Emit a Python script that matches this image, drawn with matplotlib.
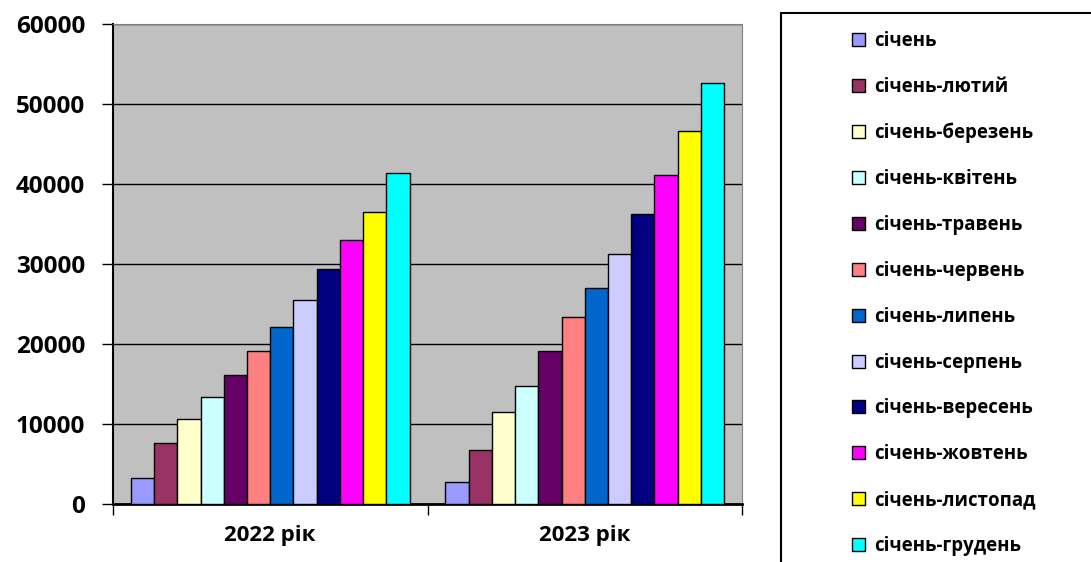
import numpy as np
import matplotlib
matplotlib.use("Agg")
import matplotlib.pyplot as plt
from matplotlib.patches import Rectangle

plt.rcParams['font.family'] = ['Open Sans', 'DejaVu Sans']
plt.rcParams['font.weight'] = 'bold'

years = ['2022 рік', '2023 рік']
periods = ['січень', 'січень-лютий', 'січень-березень', 'січень-квітень',
           'січень-травень', 'січень-червень', 'січень-липень', 'січень-серпень',
           'січень-вересень', 'січень-жовтень', 'січень-листопад', 'січень-грудень']
values_2022 = [3300, 7600, 10600, 13400, 16100, 19100, 22100, 25500, 29400, 33000, 36500, 41400]
values_2023 = [2750, 6700, 11500, 14800, 19100, 23400, 27000, 31200, 36300, 41100, 46600, 52600]
colors = ['#9999FF', '#993366', '#FFFFCC', '#CCFFFF', '#660066', '#FF8080',
          '#0066CC', '#CCCCFF', '#000080', '#FF00FF', '#FFFF00', '#00FFFF']

W, H = 1091, 562
fig = plt.figure(figsize=(W / 100, H / 100), dpi=100)
ax = fig.add_axes([113 / W, (H - 504) / H, 629 / W, 480 / H])
ax.set_facecolor('#C0C0C0')

x = np.arange(len(years))
width = 0.0739
for i, name in enumerate(periods):
    ax.bar(x + (i - 5.5) * width, [values_2022[i], values_2023[i]], width,
           color=colors[i], edgecolor='black', linewidth=1, label=name, zorder=3)

ax.set_xlim(-0.5, 1.5)
ax.set_ylim(0, 60000)
ax.set_yticks(np.arange(0, 60001, 10000))
ax.yaxis.grid(True, color='black', linewidth=1, zorder=1)
ax.set_axisbelow(True)

ax.set_xticks(x)
ax.set_xticklabels(years, fontsize=16, fontweight='bold')
ax.set_xticks([-0.5, 0.5, 1.5], minor=True)
ax.tick_params(axis='x', which='major', length=0, pad=15)
ax.tick_params(axis='x', which='minor', length=8, width=1, direction='out')
ax.tick_params(axis='y', length=8, width=1, direction='out', pad=12, labelsize=17.5)
for lbl in ax.get_yticklabels():
    lbl.set_fontweight('bold')

ax.spines['left'].set_linewidth(1.5)
ax.spines['bottom'].set_linewidth(2)
ax.spines['top'].set_color('#808080')
ax.spines['right'].set_color('#808080')

# legend box running off the right and bottom edge
fig.add_artist(Rectangle((781 / W, -0.1), 1, (H - 13) / H + 0.1,
                         transform=fig.transFigure, fill=False,
                         edgecolor='black', linewidth=1.5))

leg = fig.legend(loc='upper left', bbox_to_anchor=(852 / W, 1 - 31 / H),
                 frameon=False, prop={'weight': 'bold', 'size': 13.4},
                 handlelength=0.7, handleheight=0.7, handletextpad=0.48,
                 labelspacing=1.39, borderpad=0, borderaxespad=0)

fig.savefig('out.png', dpi=100)
